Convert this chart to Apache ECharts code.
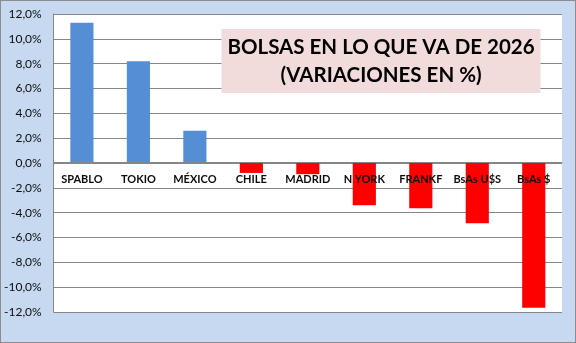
<!DOCTYPE html>
<html><head><meta charset="utf-8">
<script src="https://cdn.jsdelivr.net/npm/echarts@6/dist/echarts.min.js"></script>
<style>
html,body{margin:0;padding:0;background:#c6d9f1;}
#c{width:576px;height:343px;box-sizing:border-box;border:1px solid #8c8c8c;}
</style></head><body>
<div id="c"></div>
<script>
const categories = ['SPABLO','TOKIO','MÉXICO','CHILE','MADRID','N YORK','FRANKF','BsAs U$S','BsAs $'];
const values = [11.3, 8.2, 2.6, -0.8, -0.9, -3.4, -3.65, -4.85, -11.65];
const titleLines = ['BOLSAS EN LO QUE VA DE 2026', '(VARIACIONES EN %)'];
const yTicks = {min: -12, max: 12, interval: 2};

const chart = echarts.init(document.getElementById('c'));
chart.setOption({
  backgroundColor: '#c6d9f1',
  animation: false,
  title: {
    text: titleLines.join('\n'),
    left: 374, top: 28,
    padding: [4, 6, 4, 6],
    backgroundColor: '#f2dcdb',
    textAlign: 'center',
    textStyle: {fontFamily: 'Lato', fontWeight: 'bold', fontSize: 20.5, color: '#000', lineHeight: 28}
  },
  grid: {left: 51, right: 13, top: 13, bottom: 30, show: true, backgroundColor: '#fff', borderWidth: 0},
  xAxis: {
    type: 'category', data: categories,
    position: 'bottom', offset: -150,
    axisLine: {onZero: false, lineStyle: {color: '#868686', width: 1}},
    axisTick: {show: false},
    axisLabel: {margin: 12, fontFamily: 'Lato', fontWeight: 'bold', fontSize: 11, color: '#0d0d0d', interval: 0},
    z: 10
  },
  yAxis: {
    type: 'value', min: yTicks.min, max: yTicks.max, interval: yTicks.interval,
    axisLine: {show: true, lineStyle: {color: '#868686'}},
    axisTick: {show: false},
    splitLine: {lineStyle: {color: '#868686', width: 1}},
    axisLabel: {margin: 12, fontFamily: 'Lato', fontSize: 12, color: '#0d0d0d',
      formatter: v => v.toFixed(1).replace('.', ',') + '%'}
  },
  series: [{
    type: 'bar', data: values.map(v => ({value: v, itemStyle: {color: v >= 0 ? '#558ed5' : '#ff0000'}})),
    barCategoryGap: '59%', z: 2
  }]
});
</script></body></html>
